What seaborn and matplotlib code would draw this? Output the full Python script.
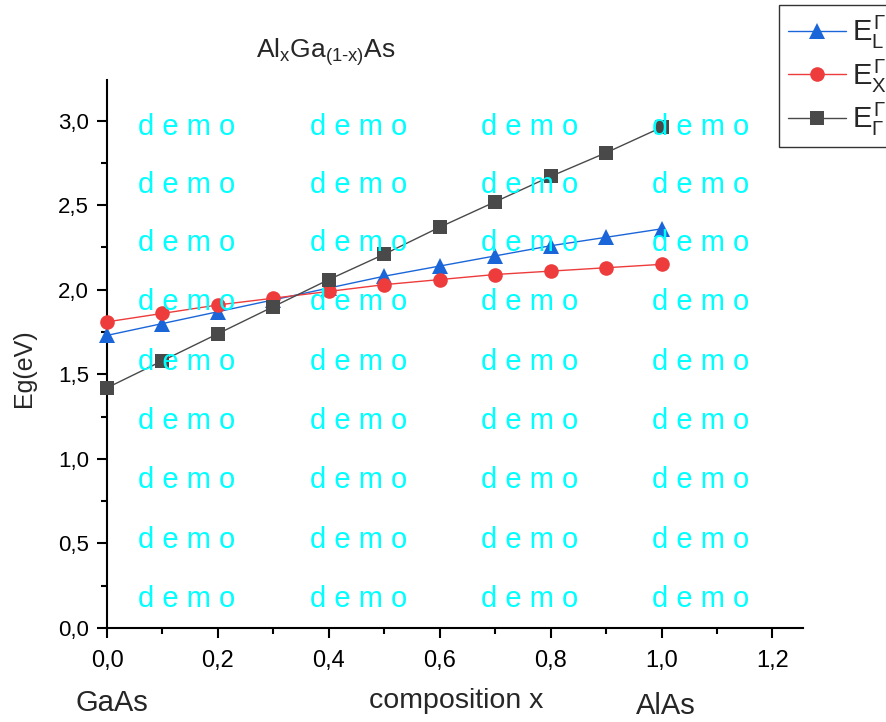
import numpy as np
import pandas as pd
import matplotlib
matplotlib.use("Agg")
import matplotlib.pyplot as plt
from matplotlib.ticker import MultipleLocator, FuncFormatter
import seaborn as sns

# Band gaps of AlxGa(1-x)As versus Al composition
composition = [0.0, 0.1, 0.2, 0.3, 0.4, 0.5, 0.6, 0.7, 0.8, 0.9, 1.0]
e_l = [1.73, 1.80, 1.87, 1.94, 2.01, 2.08, 2.14, 2.20, 2.26, 2.31, 2.36]
e_x = [1.81, 1.86, 1.91, 1.95, 1.99, 2.03, 2.06, 2.09, 2.11, 2.13, 2.15]
e_g = [1.42, 1.58, 1.74, 1.90, 2.06, 2.21, 2.37, 2.52, 2.67, 2.81, 2.96]
series_labels = [r"$E_L^{\Gamma}$", r"$E_X^{\Gamma}$", r"$E_{\Gamma}^{\Gamma}$"]

sns.set_style("white")
plt.rcParams["font.family"] = ["Liberation Sans", "DejaVu Sans"]
plt.rcParams["mathtext.fontset"] = "custom"
plt.rcParams["mathtext.rm"] = "Liberation Sans"
plt.rcParams["mathtext.it"] = "Liberation Sans"
plt.rcParams["mathtext.bf"] = "Liberation Sans:bold"

fig = plt.figure(figsize=(8.86, 7.22), dpi=100)
ax = fig.add_axes([107 / 886, 1 - 628 / 722, (803 - 107) / 886, (628 - 80) / 722])

styles = [
    (e_l, "#1a66d9", "^", 12),
    (e_x, "#ee3b3b", "o", 10.5),
    (e_g, "#494949", "s", 9.5),
]
for (vals, color, marker, ms), label in zip(styles, series_labels):
    df = pd.DataFrame({"x": composition, "y": vals})
    sns.lineplot(data=df, x="x", y="y", ax=ax, color=color, marker=marker,
                 markersize=ms, markeredgewidth=0, linewidth=1.0,
                 label=label, clip_on=False, zorder=3)

ax.set_xlim(0, 1.255)
ax.set_ylim(0, 3.24)
ax.xaxis.set_major_locator(MultipleLocator(0.2))
ax.xaxis.set_minor_locator(MultipleLocator(0.1))
ax.yaxis.set_major_locator(MultipleLocator(0.5))
ax.yaxis.set_minor_locator(MultipleLocator(0.25))
comma = FuncFormatter(lambda v, p: f"{v:.1f}".replace(".", ","))
ax.xaxis.set_major_formatter(comma)
ax.yaxis.set_major_formatter(comma)

for side in ["top", "right"]:
    ax.spines[side].set_visible(False)
for side in ["left", "bottom"]:
    ax.spines[side].set_color("black")
    ax.spines[side].set_linewidth(1.5)
ax.tick_params(which="major", direction="out", length=7, width=1.5,
               colors="black")
ax.tick_params(which="minor", direction="out", length=4, width=1.5,
               colors="black")
ax.tick_params(axis="x", labelsize=17, pad=9)
ax.tick_params(axis="y", labelsize=16, pad=6)
ax.tick_params(axis="both", which="both", bottom=True, left=True)

ax.set_xlabel("")
ax.set_ylabel("Eg(eV)", fontsize=18)
ax.yaxis.set_label_coords(-0.102, 0.475)
ax.set_title(r"Al$_x$Ga$_{(1\text{-}x)}$As", fontsize=19, pad=16,
             x=(326 - 107) / (803 - 107))

fig.text(112 / 886, 1 - 703 / 722, "GaAs", fontsize=21, ha="center", va="center")
fig.text(456 / 886, 1 - 701 / 722, "composition x", fontsize=20.5, ha="center", va="center")
fig.text(666 / 886, 1 - 706 / 722, "AlAs", fontsize=21, ha="center", va="center")

# watermark grid
wm_x = [138, 310, 481, 652]
wm_y = [127, 185, 243, 302, 362, 421, 480, 540, 599]
for yy in wm_y:
    for xx in wm_x:
        fig.text(xx / 886, 1 - yy / 722, "d e m o", color="#00ffff",
                 fontsize=21, ha="left", va="center", zorder=5)

leg = ax.legend(loc="upper left", bbox_to_anchor=(779 / 886, 1 - 5 / 722),
                bbox_transform=fig.transFigure, fontsize=21, frameon=True,
                fancybox=False, edgecolor="black", borderpad=0.3,
                labelspacing=0.22, handlelength=2.0, handletextpad=0.2,
                borderaxespad=0)
leg.get_frame().set_linewidth(1.0)

fig.savefig("out.png", dpi=100)
